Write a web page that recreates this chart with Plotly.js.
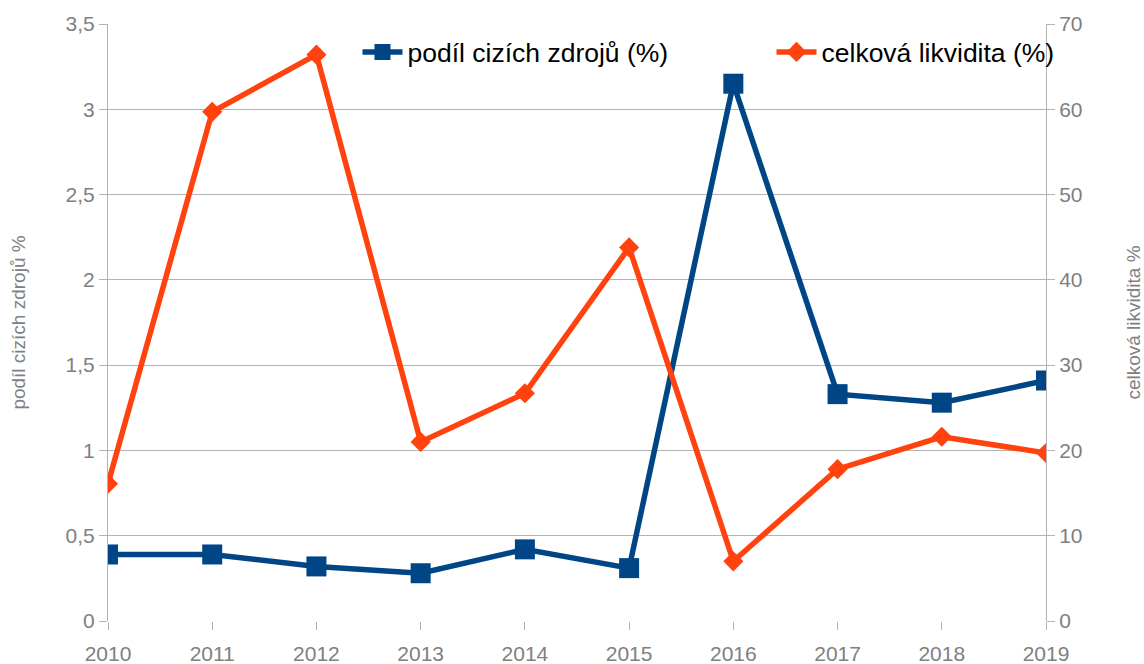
<!DOCTYPE html>
<html>
<head>
<meta charset="utf-8">
<script src="https://cdn.plot.ly/plotly-3.0.1.min.js"></script>
<style>html,body{margin:0;padding:0;background:#fff;}#chart{width:1144px;height:664px;}</style>
</head>
<body>
<div id="chart"></div>
<script>
const years = [2010, 2011, 2012, 2013, 2014, 2015, 2016, 2017, 2018, 2019];
const podilCizichZdroju = [0.39, 0.39, 0.32, 0.28, 0.42, 0.31, 3.15, 1.33, 1.28, 1.41];
const celkovaLikvidita = [16.1, 59.7, 66.4, 21.0, 26.7, 43.8, 7.0, 17.8, 21.6, 19.7];
const leftTicks = [0, 0.5, 1, 1.5, 2, 2.5, 3, 3.5];
const rightTicks = [0, 10, 20, 30, 40, 50, 60, 70];

const font = "Liberation Sans, Arial, sans-serif";
const tickFont = {family: font, size: 21, color: '#808080'};

const traces = [
  {
    x: years, y: celkovaLikvidita, name: 'celková likvidita (%)',
    type: 'scatter', mode: 'lines+markers',
    line: {color: '#ff420e', width: 5.5},
    marker: {symbol: 'diamond', size: 15.5, color: '#ff420e'},
    yaxis: 'y2', legendrank: 2, legendwidth: 245
  },
  {
    x: years, y: podilCizichZdroju, name: 'podíl cizích zdrojů (%)',
    type: 'scatter', mode: 'lines+markers',
    line: {color: '#004586', width: 5.5},
    marker: {symbol: 'square', size: 20, color: '#004586'},
    yaxis: 'y', legendrank: 1, legendwidth: 359
  }
];

const layout = {
  width: 1144, height: 664,
  margin: {l: 108, r: 98, t: 24, b: 43},
  paper_bgcolor: '#fff', plot_bgcolor: '#fff',
  separators: ', ',
  showlegend: true,
  legend: {
    orientation: 'h', x: 0.266, y: 0.993, xanchor: 'left', yanchor: 'top',
    font: {family: font, size: 26.5, color: '#000'},
    bgcolor: 'rgba(0,0,0,0)', itemwidth: 40
  },
  xaxis: {
    type: 'linear', range: [2010, 2019],
    tickvals: years, ticktext: years.map(String),
    showgrid: false, zeroline: false,
    showline: false,
    ticks: 'outside', ticklen: 8, tickcolor: '#b3b3b3',
    tickfont: tickFont, ticklabelstandoff: 6
  },
  yaxis: {
    range: [0, 3.5], tickvals: leftTicks,
    showgrid: true, gridcolor: '#b3b3b3', gridwidth: 1,
    zeroline: false, showline: true, linecolor: '#b3b3b3', linewidth: 1,
    ticks: 'outside', ticklen: 8, tickcolor: '#b3b3b3',
    tickfont: tickFont,
    title: {text: 'podíl cizích zdrojů %', font: {family: font, size: 19, color: '#808080'}, standoff: 34}
  },
  yaxis2: {
    range: [0, 70], tickvals: rightTicks,
    overlaying: 'y', side: 'right',
    showgrid: false, zeroline: false,
    showline: true, linecolor: '#b3b3b3', linewidth: 1,
    ticks: 'outside', ticklen: 8, tickcolor: '#b3b3b3',
    tickfont: tickFont,
    title: {text: 'celková likvidita %', font: {family: font, size: 19, color: '#808080'}, standoff: 45}
  }
};

Plotly.newPlot('chart', traces, layout, {displayModeBar: false, staticPlot: true});
</script>
</body>
</html>
